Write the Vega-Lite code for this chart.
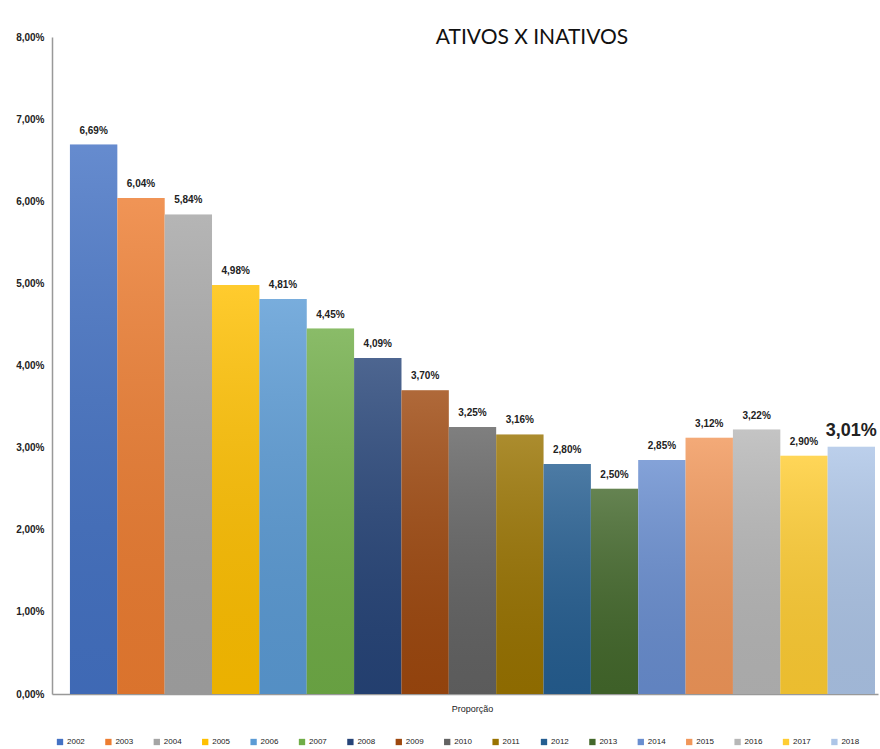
{
  "$schema": "https://vega.github.io/schema/vega-lite/v6.json",
  "width": 826,
  "height": 657,
  "autosize": {"type": "none"},
  "padding": {"left": 52, "top": 37, "right": 2, "bottom": 55},
  "background": "white",
  "config": {
    "locale": {"number": {"decimal": ",", "thousands": ".", "grouping": [3], "currency": ["R$", ""]}},
    "view": {"stroke": null},
    "font": "Liberation Sans"
  },
  "title": {
    "text": "ATIVOS X INATIVOS",
    "font": "Lato",
    "fontSize": 21,
    "fontWeight": "normal",
    "color": "#111",
    "anchor": "middle",
    "dx": 67,
    "offset": -33,
    "baseline": "alphabetic"
  },
  "data": {
    "values": [
      {"cat": "Proporção", "year": "2002", "value": 0.0669},
      {"cat": "Proporção", "year": "2003", "value": 0.0604},
      {"cat": "Proporção", "year": "2004", "value": 0.0584},
      {"cat": "Proporção", "year": "2005", "value": 0.0498},
      {"cat": "Proporção", "year": "2006", "value": 0.0481},
      {"cat": "Proporção", "year": "2007", "value": 0.0445},
      {"cat": "Proporção", "year": "2008", "value": 0.0409},
      {"cat": "Proporção", "year": "2009", "value": 0.0370},
      {"cat": "Proporção", "year": "2010", "value": 0.0325},
      {"cat": "Proporção", "year": "2011", "value": 0.0316},
      {"cat": "Proporção", "year": "2012", "value": 0.0280},
      {"cat": "Proporção", "year": "2013", "value": 0.0250},
      {"cat": "Proporção", "year": "2014", "value": 0.0285},
      {"cat": "Proporção", "year": "2015", "value": 0.0312},
      {"cat": "Proporção", "year": "2016", "value": 0.0322},
      {"cat": "Proporção", "year": "2017", "value": 0.0290},
      {"cat": "Proporção", "year": "2018", "value": 0.0301}
    ]
  },
  "encoding": {
    "x": {
      "field": "cat", "type": "nominal",
      "scale": {"paddingInner": 0, "paddingOuter": 0.013, "align": 0.857},
      "axis": {"title": null, "labelAngle": 0, "ticks": false, "labelPadding": 10, "labelFontSize": 9, "labelColor": "#222", "domainColor": "#999", "domainWidth": 1.5}
    },
    "xOffset": {"field": "year", "type": "nominal", "scale": {"paddingInner": 0, "paddingOuter": 0}},
    "y": {
      "field": "value", "type": "quantitative",
      "scale": {"domain": [0, 0.08], "nice": false},
      "axis": {"title": null, "format": ".2%", "values": [0, 0.01, 0.02, 0.03, 0.04, 0.05, 0.06, 0.07, 0.08], "grid": false, "ticks": false, "labelPadding": 8, "labelFontSize": 10, "labelFontWeight": "bold", "labelColor": "#222", "domainColor": "#999", "domainWidth": 1.5}
    }
  },
  "layer": [
    {
      "mark": {"type": "bar"},
      "encoding": {
        "color": {
          "field": "year", "type": "nominal",
          "scale": {
            "domain": ["2002","2003","2004","2005","2006","2007","2008","2009","2010","2011","2012","2013","2014","2015","2016","2017","2018"],
            "range": ["#4472C4","#ED7D31","#A5A5A5","#FFC000","#5B9BD5","#70AD47","#264478","#9E480E","#636363","#997300","#255E91","#43682B","#698ED0","#F1975A","#B7B7B7","#FFCD33","#ADC5E7"]
          },
          "legend": {
            "title": null,
            "orient": "none",
            "legendX": 4,
            "legendY": 701,
            "direction": "horizontal",
            "columns": 17,
            "symbolType": "square",
            "symbolSize": 40,
            "symbolStrokeWidth": 0,
            "labelFontSize": 8,
            "labelColor": "#222",
            "labelOffset": 3,
            "columnPadding": 19.4
          }
        }
      }
    },
    {
      "mark": {
        "type": "bar",
        "color": {
          "x1": 0, "y1": 0, "x2": 0, "y2": 1,
          "gradient": "linear",
          "stops": [
            {"offset": 0, "color": "rgba(255,255,255,0.18)"},
            {"offset": 1, "color": "rgba(0,0,0,0.08)"}
          ]
        }
      },
      "encoding": {}
    },
    {
      "mark": {"type": "text", "baseline": "alphabetic", "dy": -11, "fontWeight": "bold", "color": "#222"},
      "encoding": {
        "text": {"field": "value", "type": "quantitative", "format": ".2%"},
        "size": {"condition": {"test": "datum.year === '2018'", "value": 18}, "value": 10}
      }
    }
  ]
}
